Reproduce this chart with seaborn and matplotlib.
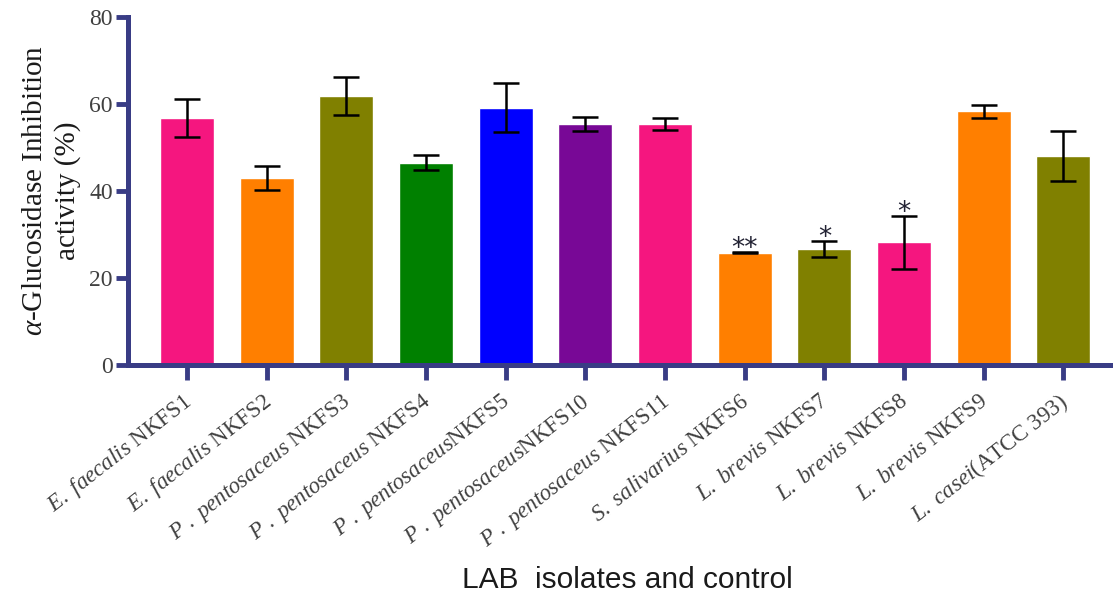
import matplotlib
matplotlib.use("Agg")
import matplotlib.pyplot as plt
import seaborn as sns
import numpy as np

strains = [
    r"$\mathit{E.\ faecalis}$ NKFS1",
    r"$\mathit{E.\ faecalis}$ NKFS2",
    r"$\mathit{P\ .\ pentosaceus}$ NKFS3",
    r"$\mathit{P\ .\ pentosaceus}$ NKFS4",
    r"$\mathit{P\ .\ pentosaceus}$NKFS5",
    r"$\mathit{P\ .\ pentosaceus}$NKFS10",
    r"$\mathit{P\ .\ pentosaceus}$ NKFS11",
    r"$\mathit{S.\ salivarius}$ NKFS6",
    r"$\mathit{L.\ brevis}$ NKFS7",
    r"$\mathit{L.\ brevis}$ NKFS8",
    r"$\mathit{L.\ brevis}$ NKFS9",
    r"$\mathit{L.\ casei}$(ATCC 393)",
]
inhibition = [56.8, 43.0, 61.8, 46.5, 59.1, 55.3, 55.3, 25.8, 26.7, 28.2, 58.3, 48.0]
sd = [4.3, 2.8, 4.3, 1.7, 5.6, 1.6, 1.4, 0.2, 1.8, 6.1, 1.5, 5.8]
signif = ["", "", "", "", "", "", "", "**", "*", "*", "", ""]
bar_colors = ["#F5167F", "#FF7F00", "#808000", "#008000", "#0000FF", "#780896",
              "#F5167F", "#FF7F00", "#808000", "#F5167F", "#FF7F00", "#808000"]

sns.set_style("white")
plt.rcParams["font.family"] = ["Liberation Serif", "DejaVu Serif"]
plt.rcParams["mathtext.fontset"] = "custom"
plt.rcParams["mathtext.rm"] = "Liberation Serif"
plt.rcParams["mathtext.it"] = "Liberation Serif:italic"
plt.rcParams["mathtext.bf"] = "Liberation Serif:bold"

axis_col = "#393C85"
text_col = "#404040"

fig = plt.figure(figsize=(11.14, 5.98), dpi=100)
ax = fig.add_axes([0.115, 0.390, 0.881, 0.5816])

x = np.arange(len(strains))
sns.barplot(x=x, y=inhibition, hue=x, palette=bar_colors, legend=False,
            width=0.68, saturation=1, ax=ax, errorbar=None)
ax.errorbar(x, inhibition, yerr=sd, fmt="none", ecolor="black",
            elinewidth=1.8, capsize=9.5, capthick=1.8, zorder=5)

for xi, v, e, s in zip(x, inhibition, sd, signif):
    if s:
        ax.text(xi, v + e - 2.3, s, ha="center", va="bottom",
                fontsize=19, color="#222233", family="DejaVu Sans")

ax.set_xlim(-0.74, 11.58)
ax.set_ylim(0, 80)
ax.set_yticks([0, 20, 40, 60, 80])
ax.set_xticks(x)
ax.set_xticklabels(strains, rotation=38, ha="right", va="center_baseline",
                   rotation_mode="anchor", fontsize=16.5, color=text_col)
ax.tick_params(axis="y", labelsize=17, labelcolor=text_col, direction="out",
               length=9, width=3.5, color=axis_col, left=True, pad=2)
ax.tick_params(axis="x", direction="out", length=11, width=3.5,
               color=axis_col, bottom=True, pad=12)

for side in ["top", "right"]:
    ax.spines[side].set_visible(False)
for side in ["left", "bottom"]:
    ax.spines[side].set_color(axis_col)
    ax.spines[side].set_linewidth(3.6)

ax.set_ylabel(r"$\alpha$-Glucosidase Inhibition" + "\nactivity (%)",
              fontsize=21, color="#1a1a1a", labelpad=6, linespacing=1.3)
fig.text(0.563, 0.03, "LAB  isolates and control", ha="center", va="center",
         fontsize=21.5, family="Liberation Sans", color="#1a1a1a")

fig.savefig("out.png", dpi=100)
